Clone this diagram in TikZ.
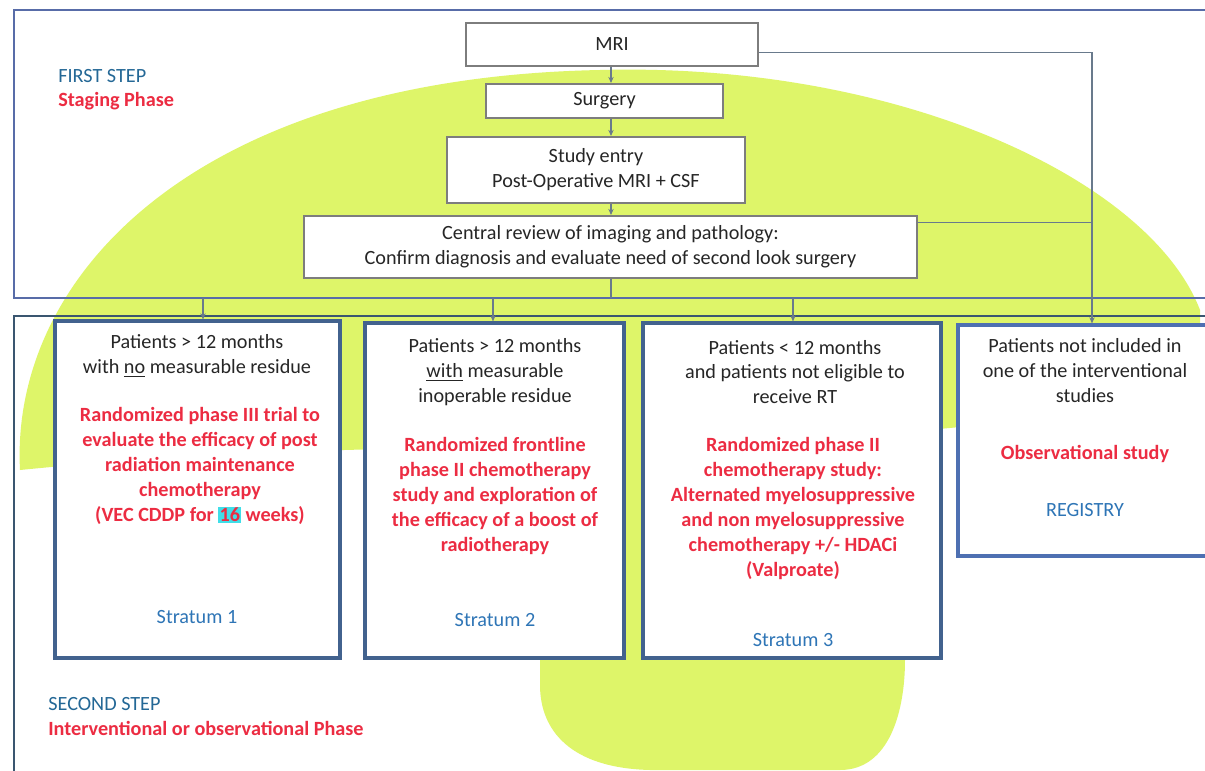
\documentclass[tikz,border=0pt]{standalone}
\usepackage{fontspec}
\setmainfont{Carlito}
\usetikzlibrary{arrows.meta}
\definecolor{lime}{RGB}{222,245,105}
\definecolor{topframe}{RGB}{88,108,168}
\definecolor{botframe}{RGB}{58,86,112}
\definecolor{stratline}{RGB}{66,98,142}
\definecolor{regline}{RGB}{78,112,178}
\definecolor{boxgray}{RGB}{125,125,125}
\definecolor{connc}{RGB}{105,122,140}
\definecolor{redt}{RGB}{236,44,66}
\definecolor{bluet}{RGB}{46,117,182}
\definecolor{stept}{RGB}{36,104,150}
\definecolor{darkt}{RGB}{38,38,38}
\definecolor{hl}{RGB}{64,222,232}
\begin{document}
\begin{tikzpicture}[x=0.02cm,y=-0.02cm,
  font=\fontsize{11.5}{14.2}\selectfont,
  graybox/.style={draw=boxgray,line width=1.1pt,fill=white,inner sep=0pt,align=center,text=darkt},
  stratbox/.style={draw=stratline,line width=1.8pt,fill=white,inner sep=0pt},
  regbox/.style={stratbox,draw=regline},
  txt/.style={align=center,inner sep=0pt,text=darkt},
  redtxt/.style={align=center,inner sep=0pt,text=redt,font=\fontsize{11.5}{14.2}\selectfont\bfseries},
  bluetxt/.style={align=center,inner sep=0pt,text=bluet},
  steptxt/.style={anchor=west,inner sep=0pt,text=stept},
  phasetxt/.style={anchor=west,inner sep=0pt,text=redt,font=\fontsize{11.5}{14.2}\selectfont\bfseries},
  conn/.style={draw=connc,line width=0.6pt},
  arr/.style={conn,-{Stealth[length=3.5pt,width=3pt]}},
  frameA/.style={draw=topframe,line width=1.7pt},
  frameB/.style={draw=botframe,line width=1.7pt}]
\useasboundingbox (0,0) rectangle (1205,771);
\clip (0,0) rectangle (1205,771);
\fill[white] (0,0) rectangle (1205,771);
% green blob
\fill[lime] (20,470) .. controls (10,280) and (190,78) .. (600,70)
  .. controls (900,62) and (1150,180) .. (1200,310) -- (1200,400)
  .. controls (1100,412) and (1000,424) .. (905,432) -- (905,660)
  .. controls (905,710) and (890,770) .. (840,770) -- (650,770)
  .. controls (570,768) and (540,730) .. (540,685) -- (540,448)
  .. controls (380,447) and (200,452) .. (20,470) -- cycle;
% frames
\draw[frameA] (14,10) rectangle (1230,298);
\draw[frameB] (1230,316) -- (14,316) -- (14,800);
% staging boxes
\node[graybox,minimum width=5.84cm,minimum height=0.86cm] (mri) at (612,44.5) {MRI};
\node[graybox,minimum width=4.74cm,minimum height=0.68cm] (surg) at (604.5,101) {Surgery};
\node[graybox,minimum width=5.96cm,minimum height=1.32cm] (entry) at (596,170) {Study entry\\Post-Operative MRI + CSF};
\node[graybox,minimum width=12.26cm,minimum height=1.24cm] (review) at (610.5,247) {Central review of imaging and pathology:\\Confirm diagnosis and evaluate need of second look surgery};
% strata boxes
\node[stratbox,minimum width=5.7cm,minimum height=6.74cm] (b1) at (197.5,489.5) {};
\node[stratbox,minimum width=5.18cm,minimum height=6.7cm] (b2) at (494.5,490.5) {};
\node[stratbox,minimum width=5.96cm,minimum height=6.7cm] (b3) at (792,490.5) {};
\node[regbox,minimum width=5.44cm,minimum height=4.62cm] (b4) at (1094,440.5) {};
% connectors
\coordinate (sp) at (611,0);
\coordinate (vx) at (1092,0);
\draw[arr] (mri.south -| sp) -- (surg.north -| sp);
\draw[arr] (surg.south -| sp) -- (entry.north -| sp);
\draw[arr] (entry.south -| sp) -- (review.north -| sp);
\coordinate (fc) at (611,298);
\draw[conn] (review.south -| sp) -- (fc);
\coordinate (f1) at (203,298);
\coordinate (f2) at (493,298);
\coordinate (f3) at (793,298);
\draw[arr] (f1) -- (f1 |- b1.north);
\draw[arr] (f2) -- (f2 |- b2.north);
\draw[arr] (f3) -- (f3 |- b3.north);
\draw[arr] ([yshift=-4.5pt]mri.east) -| (b4.north -| vx);
\draw[conn] ([yshift=14pt]review.east) -- ([yshift=14pt]review.east -| vx);
% step labels
\node[steptxt] (s1a) at (58,76) {FIRST STEP};
\node[phasetxt] (s1b) at (58,101) {Staging Phase};
\node[steptxt] (s2a) at (48,704) {SECOND STEP};
\node[phasetxt] (s2b) at (48,728) {Interventional or observational Phase};
% stratum 1
\node[txt] (b1a) at (197,356) {Patients > 12 months\\with \underline{no} measurable residue};
\node[redtxt] (b1b) at (200,466) {Randomized phase III trial to\\evaluate the efficacy of post\\radiation maintenance\\chemotherapy\\(VEC CDDP for {\setlength{\fboxsep}{0.6pt}\colorbox{hl}{16}} weeks)};
\node[bluetxt] (b1c) at (197,617) {Stratum 1};
% stratum 2
\node[txt] (b2a) at (495,372) {Patients > 12 months\\\underline{with} measurable\\inoperable residue};
\node[redtxt] (b2b) at (495,496) {Randomized frontline\\phase II chemotherapy\\study and exploration of\\the efficacy of a boost of\\radiotherapy};
\node[bluetxt] (b2c) at (495,620) {Stratum 2};
% stratum 3
\node[txt] (b3a) at (795,372) {Patients < 12 months\\and patients not eligible to\\receive RT};
\node[redtxt] (b3b) at (793,508.5) {Randomized phase II\\chemotherapy study:\\Alternated myelosuppressive\\and non myelosuppressive\\chemotherapy +/- HDACi\\(Valproate)};
\node[bluetxt] (b3c) at (793,640) {Stratum 3};
% registry
\node[txt] (b4a) at (1085,371) {Patients not included in\\one of the interventional\\studies};
\node[redtxt] (b4b) at (1085,454) {Observational study};
\node[bluetxt] (b4c) at (1085,510) {REGISTRY};
\end{tikzpicture}
\end{document}
